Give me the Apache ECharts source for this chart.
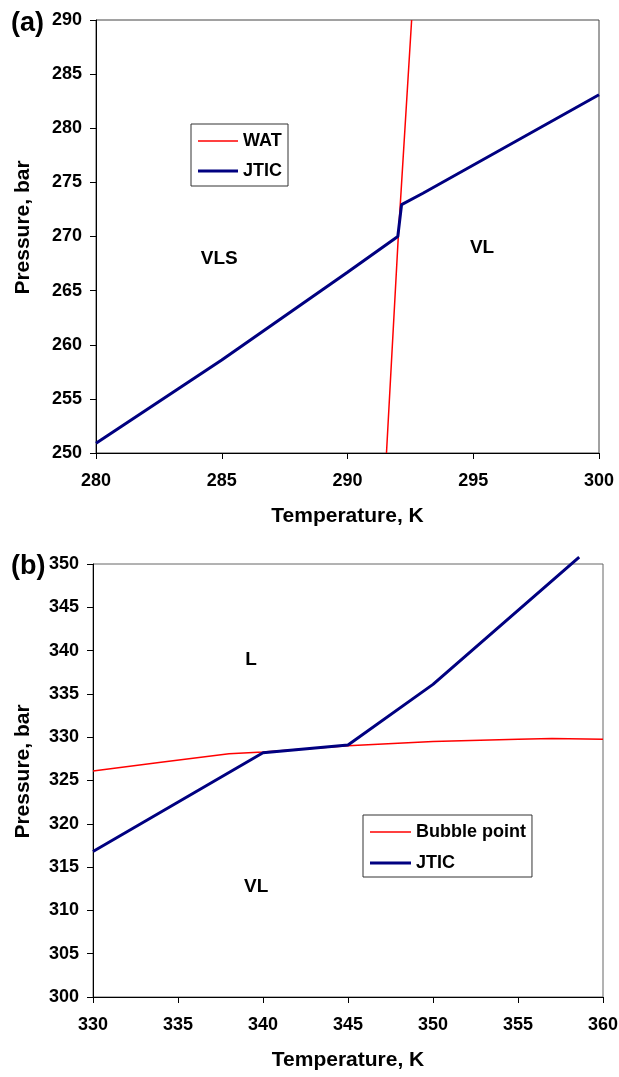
<!DOCTYPE html>
<html>
<head>
<meta charset="utf-8">
<script src="https://cdn.jsdelivr.net/npm/echarts@6/dist/echarts.min.js"></script>
<style>
  html, body { margin: 0; padding: 0; background: #fff; }
  #main { width: 619px; height: 1077px; }
</style>
</head>
<body>
<div id="main"></div>
<script>
// panel (a)
var watT = [291.55, 292.02, 292.55];
var watP = [250, 270, 290];
var jticAT = [280, 285, 290, 292, 292.15, 293, 300];
var jticAP = [250.9, 258.6, 266.7, 270, 272.95, 274, 283.1];
var regionsA = [['VLS', 284.9, 267.9], ['VL', 295.35, 269.0]];

// panel (b)
var bubbleT = [330, 334, 338, 340, 345, 350, 355, 357, 360];
var bubbleP = [326.1, 327.1, 328.1, 328.3, 329.0, 329.5, 329.75, 329.85, 329.75];
var jticBT = [330, 340, 345, 350, 358.6];
var jticBP = [316.8, 328.2, 329.1, 336.1, 350.8];
var regionsB = [['L', 339.3, 338.9], ['VL', 339.6, 312.7]];

var FONT = 'Liberation Sans, Arial, sans-serif';
var THIN = 'path://M0,0H40V1.5H0Z';
var THICK = 'path://M0,0H40V3H0Z';

function pairs(xs, ys) {
	return xs.map(function (x, i) { return [x, ys[i]]; });
}
function regionData(list) {
	return list.map(function (r) { return { name: r[0], value: [r[1], r[2]] }; });
}

function xAxisOf(grid, min, max) {
	return {
		type: 'value', gridIndex: grid, min: min, max: max, interval: 5,
		name: 'Temperature, K', nameLocation: 'middle', nameGap: 53,
		nameTextStyle: { fontFamily: FONT, fontWeight: 'bold', fontSize: 21, color: '#000' },
		axisLine: { show: true, onZero: false, lineStyle: { color: '#000', width: 1 } },
		axisTick: { show: true, inside: false, length: 6, lineStyle: { color: '#000' } },
		axisLabel: { margin: 19, fontFamily: FONT, fontWeight: 'bold', fontSize: 18, color: '#000' },
		splitLine: { show: false }
	};
}
function yAxisOf(grid, min, max, gap) {
	return {
		type: 'value', gridIndex: grid, min: min, max: max, interval: 5,
		name: 'Pressure, bar', nameLocation: 'middle', nameGap: gap, nameRotate: 90,
		nameMoveOverlap: false,
		nameTextStyle: { fontFamily: FONT, fontWeight: 'bold', fontSize: 21, color: '#000', padding: [0, 0, 0, 18] },
		axisLine: { show: true, onZero: false, lineStyle: { color: '#000', width: 1 } },
		axisTick: { show: true, inside: false, length: 6, lineStyle: { color: '#000' } },
		axisLabel: { margin: 14, fontFamily: FONT, fontWeight: 'bold', fontSize: 18, color: '#000' },
		splitLine: { show: false }
	};
}
function legendOf(items, left, top, iw, gap, pad) {
	return {
		data: items, orient: 'vertical', left: left, top: top,
		itemWidth: iw, itemHeight: 14, itemGap: gap, padding: pad,
		symbolKeepAspect: true,
		borderColor: '#333', borderWidth: 1, backgroundColor: '#fff',
		selectedMode: false,
		textStyle: { fontFamily: FONT, fontWeight: 'bold', fontSize: 18, color: '#000' }
	};
}
function regionSeries(idx, list) {
	return {
		type: 'scatter', xAxisIndex: idx, yAxisIndex: idx, silent: true,
		symbol: 'circle', symbolSize: 1, itemStyle: { opacity: 0 },
		data: regionData(list),
		label: { show: true, position: 'inside', formatter: '{b}', opacity: 1,
			textBorderWidth: 0, fontFamily: FONT, fontWeight: 'bold', fontSize: 19, color: '#000' }
	};
}

var myChart = echarts.init(document.getElementById('main'), null, { renderer: 'canvas' });
var option = {
	backgroundColor: '#fff',
	animation: false,
	title: [
		{ text: '(a)', left: 6, top: 5, textStyle: { fontFamily: FONT, fontWeight: 'bold', fontSize: 27, color: '#000' } },
		{ text: '(b)', left: 6, top: 548, textStyle: { fontFamily: FONT, fontWeight: 'bold', fontSize: 27, color: '#000' } }
	],
	grid: [
		{ left: 96, right: 20, top: 20, height: 433, show: true, borderColor: '#444', borderWidth: 1, outerBoundsMode: 'none' },
		{ left: 93, right: 16, top: 564, height: 433, show: true, borderColor: '#666', borderWidth: 1, outerBoundsMode: 'none' }
	],
	xAxis: [xAxisOf(0, 280, 300), xAxisOf(1, 330, 360)],
	yAxis: [yAxisOf(0, 250, 290, 62), yAxisOf(1, 300, 350, 59)],
	legend: [
		legendOf([{ name: 'WAT', icon: THIN }, { name: 'JTIC', icon: THICK }], 191, 124, 40, 12, [8, 6, 6, 7]),
		legendOf([{ name: 'Bubble point', icon: THIN }, { name: 'JTIC', icon: THICK }], 363, 815, 41, 13, [8, 6, 5, 7])
	],
	series: [
		{ name: 'WAT', type: 'line', xAxisIndex: 0, yAxisIndex: 0, data: pairs(watT, watP),
			symbol: 'none', lineStyle: { color: '#ff0000', width: 1.5 }, itemStyle: { color: '#ff0000' } },
		{ name: 'JTIC', type: 'line', xAxisIndex: 0, yAxisIndex: 0, data: pairs(jticAT, jticAP),
			symbol: 'none', lineStyle: { color: '#000080', width: 3 }, itemStyle: { color: '#000080' } },
		regionSeries(0, regionsA),
		{ name: 'Bubble point', type: 'line', xAxisIndex: 1, yAxisIndex: 1, data: pairs(bubbleT, bubbleP),
			symbol: 'none', lineStyle: { color: '#ff0000', width: 1.5 }, itemStyle: { color: '#ff0000' } },
		{ name: 'JTIC', type: 'line', xAxisIndex: 1, yAxisIndex: 1, data: pairs(jticBT, jticBP), clip: false,
			symbol: 'none', lineStyle: { color: '#000080', width: 3 }, itemStyle: { color: '#000080' } },
		regionSeries(1, regionsB)
	]
};
myChart.setOption(option);
</script>
</body>
</html>
